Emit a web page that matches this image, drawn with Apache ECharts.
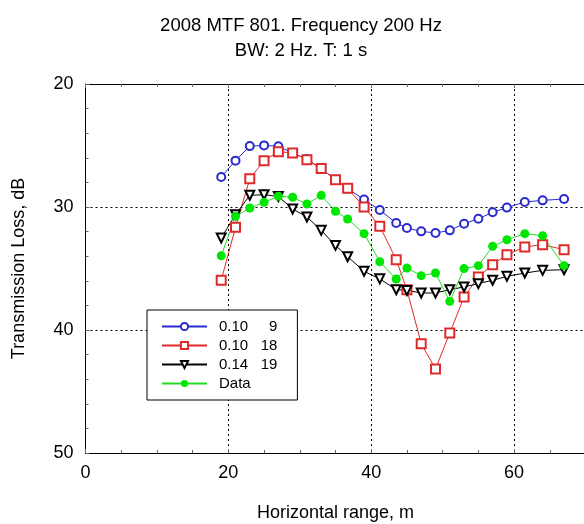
<!DOCTYPE html>
<html>
<head>
<meta charset="utf-8">
<script src="https://cdn.jsdelivr.net/npm/echarts@6/dist/echarts.min.js"></script>
<style>
html,body{margin:0;padding:0;background:#fff;}
#chart{width:584px;height:524px;}
</style>
</head>
<body>
<div id="chart"></div>
<script>
// Horizontal range, m (shared by all series)
const ranges = [19,21,23,25,27,29,31,33,35,36.7,39,41.2,43.5,45,47,49,51,53,55,57,59,61.5,64,67];
// Transmission loss, dB
const model_010_9  = [27.56,26.23,25.05,24.99,25.06,25.61,26.1,26.88,27.78,28.5,29.4,30.25,31.3,31.71,31.98,32.11,31.9,31.36,30.95,30.43,30.05,29.59,29.46,29.35];
const model_010_18 = [35.96,31.65,27.7,26.23,25.5,25.6,26.15,26.88,27.78,28.48,30.0,31.57,34.28,36.72,41.11,43.17,40.24,37.32,35.69,34.69,33.88,33.25,33.06,33.47];
const model_014_19 = [32.52,30.62,29.05,29.0,29.15,30.16,30.81,31.9,33.12,34.04,35.23,35.84,36.72,36.78,36.99,36.99,36.72,36.5,36.23,35.96,35.64,35.37,35.15,35.1];
const dataTL       = [33.96,30.76,30.08,29.62,29.13,29.21,29.76,29.05,30.35,30.98,32.17,34.45,35.85,34.96,35.58,35.37,37.67,35.01,34.77,33.2,32.66,32.17,32.33,34.77];
const seriesNames = ['0.10     9','0.10   18','0.14   19','Data'];
const xTicks = [0,20,40,60];
const yTicks = [20,30,40,50];

function pairs(ys){ return ranges.map((x,i)=>[x, ys[i]]); }

const FONT = '"Liberation Sans", Arial, sans-serif';
const chart = echarts.init(document.getElementById('chart'));
const axisCommonX = {
  type:'value', min:0, max:70, interval:20,
  axisLine:{show:true, lineStyle:{color:'#000', width:1}},
  axisTick:{show:true, inside:true, length:4, lineStyle:{color:'#666'}},
  minorTick:{show:true, splitNumber:4, length:3, lineStyle:{color:'#666'}},
};
chart.setOption({
  animation:false,
  backgroundColor:'#fff',
  title:{
    text:'2008 MTF 801. Frequency 200 Hz\nBW: 2 Hz. T: 1 s',
    left:296, top:8, textAlign:'center',
    textStyle:{fontFamily:FONT, fontSize:18.5, fontWeight:'normal', color:'#000', lineHeight:25}
  },
  grid:{left:85.5, top:84, width:500, height:369, containLabel:false, outerBoundsMode:'none'},
  legend:{
    orient:'vertical', left:147, top:310,
    backgroundColor:'#fff', borderColor:'#000', borderWidth:1,
    padding:[9,20,9,14], itemGap:4, itemWidth:45, itemHeight:9,
    textStyle:{fontFamily:FONT, fontSize:15, color:'#000', padding:[0,0,0,7]},
    data:seriesNames
  },
  xAxis:[
    Object.assign({}, axisCommonX, {
      position:'bottom',
      name:'Horizontal range, m', nameLocation:'middle', nameGap:51,
      nameTextStyle:{fontFamily:FONT, fontSize:18, color:'#000'},
      axisLabel:{fontFamily:FONT, fontSize:18, color:'#000', margin:11,
        formatter:v=> xTicks.indexOf(v)>=0 ? String(v) : ''},
      splitLine:{show:true, lineStyle:{color:'#000', type:[2,3], width:1}}
    }),
    Object.assign({}, axisCommonX, {
      position:'top', axisLabel:{show:false}, splitLine:{show:false}
    })
  ],
  yAxis:{
    type:'value', min:20, max:50, interval:10, inverse:true,
    name:'Transmission Loss, dB', nameLocation:'middle', nameGap:57,
    nameTextStyle:{fontFamily:FONT, fontSize:18, color:'#000'},
    axisLine:{show:true, lineStyle:{color:'#000', width:1}},
    axisTick:{show:true, inside:true, length:4, lineStyle:{color:'#666'}},
    minorTick:{show:true, splitNumber:5, length:3, lineStyle:{color:'#666'}},
    axisLabel:{fontFamily:FONT, fontSize:18, color:'#000', margin:12,
      formatter:v=> yTicks.indexOf(v)>=0 ? String(v) : ''},
    splitLine:{show:true, lineStyle:{color:'#000', type:[2,3], width:1}}
  },
  series:[
    {name:seriesNames[0], type:'line', data:pairs(model_010_9),
     symbol:'emptyCircle', symbolSize:8,
     lineStyle:{color:'#2a2ad0', width:1}, itemStyle:{color:'#2a2ad0', borderWidth:1}},
    {name:seriesNames[1], type:'line', data:pairs(model_010_18),
     symbol:'emptyRect', symbolSize:9,
     lineStyle:{color:'#dd2a2a', width:1}, itemStyle:{color:'#dd2a2a', borderWidth:1}},
    {name:seriesNames[2], type:'line', data:pairs(model_014_19),
     symbol:'emptyTriangle', symbolRotate:180, symbolSize:9,
     lineStyle:{color:'#000', width:1}, itemStyle:{color:'#000', borderWidth:1}},
    {name:seriesNames[3], type:'line', data:pairs(dataTL),
     symbol:'circle', symbolSize:9,
     lineStyle:{color:'#22dd22', width:1}, itemStyle:{color:'#00e600'}}
  ]
});
</script>
</body>
</html>
